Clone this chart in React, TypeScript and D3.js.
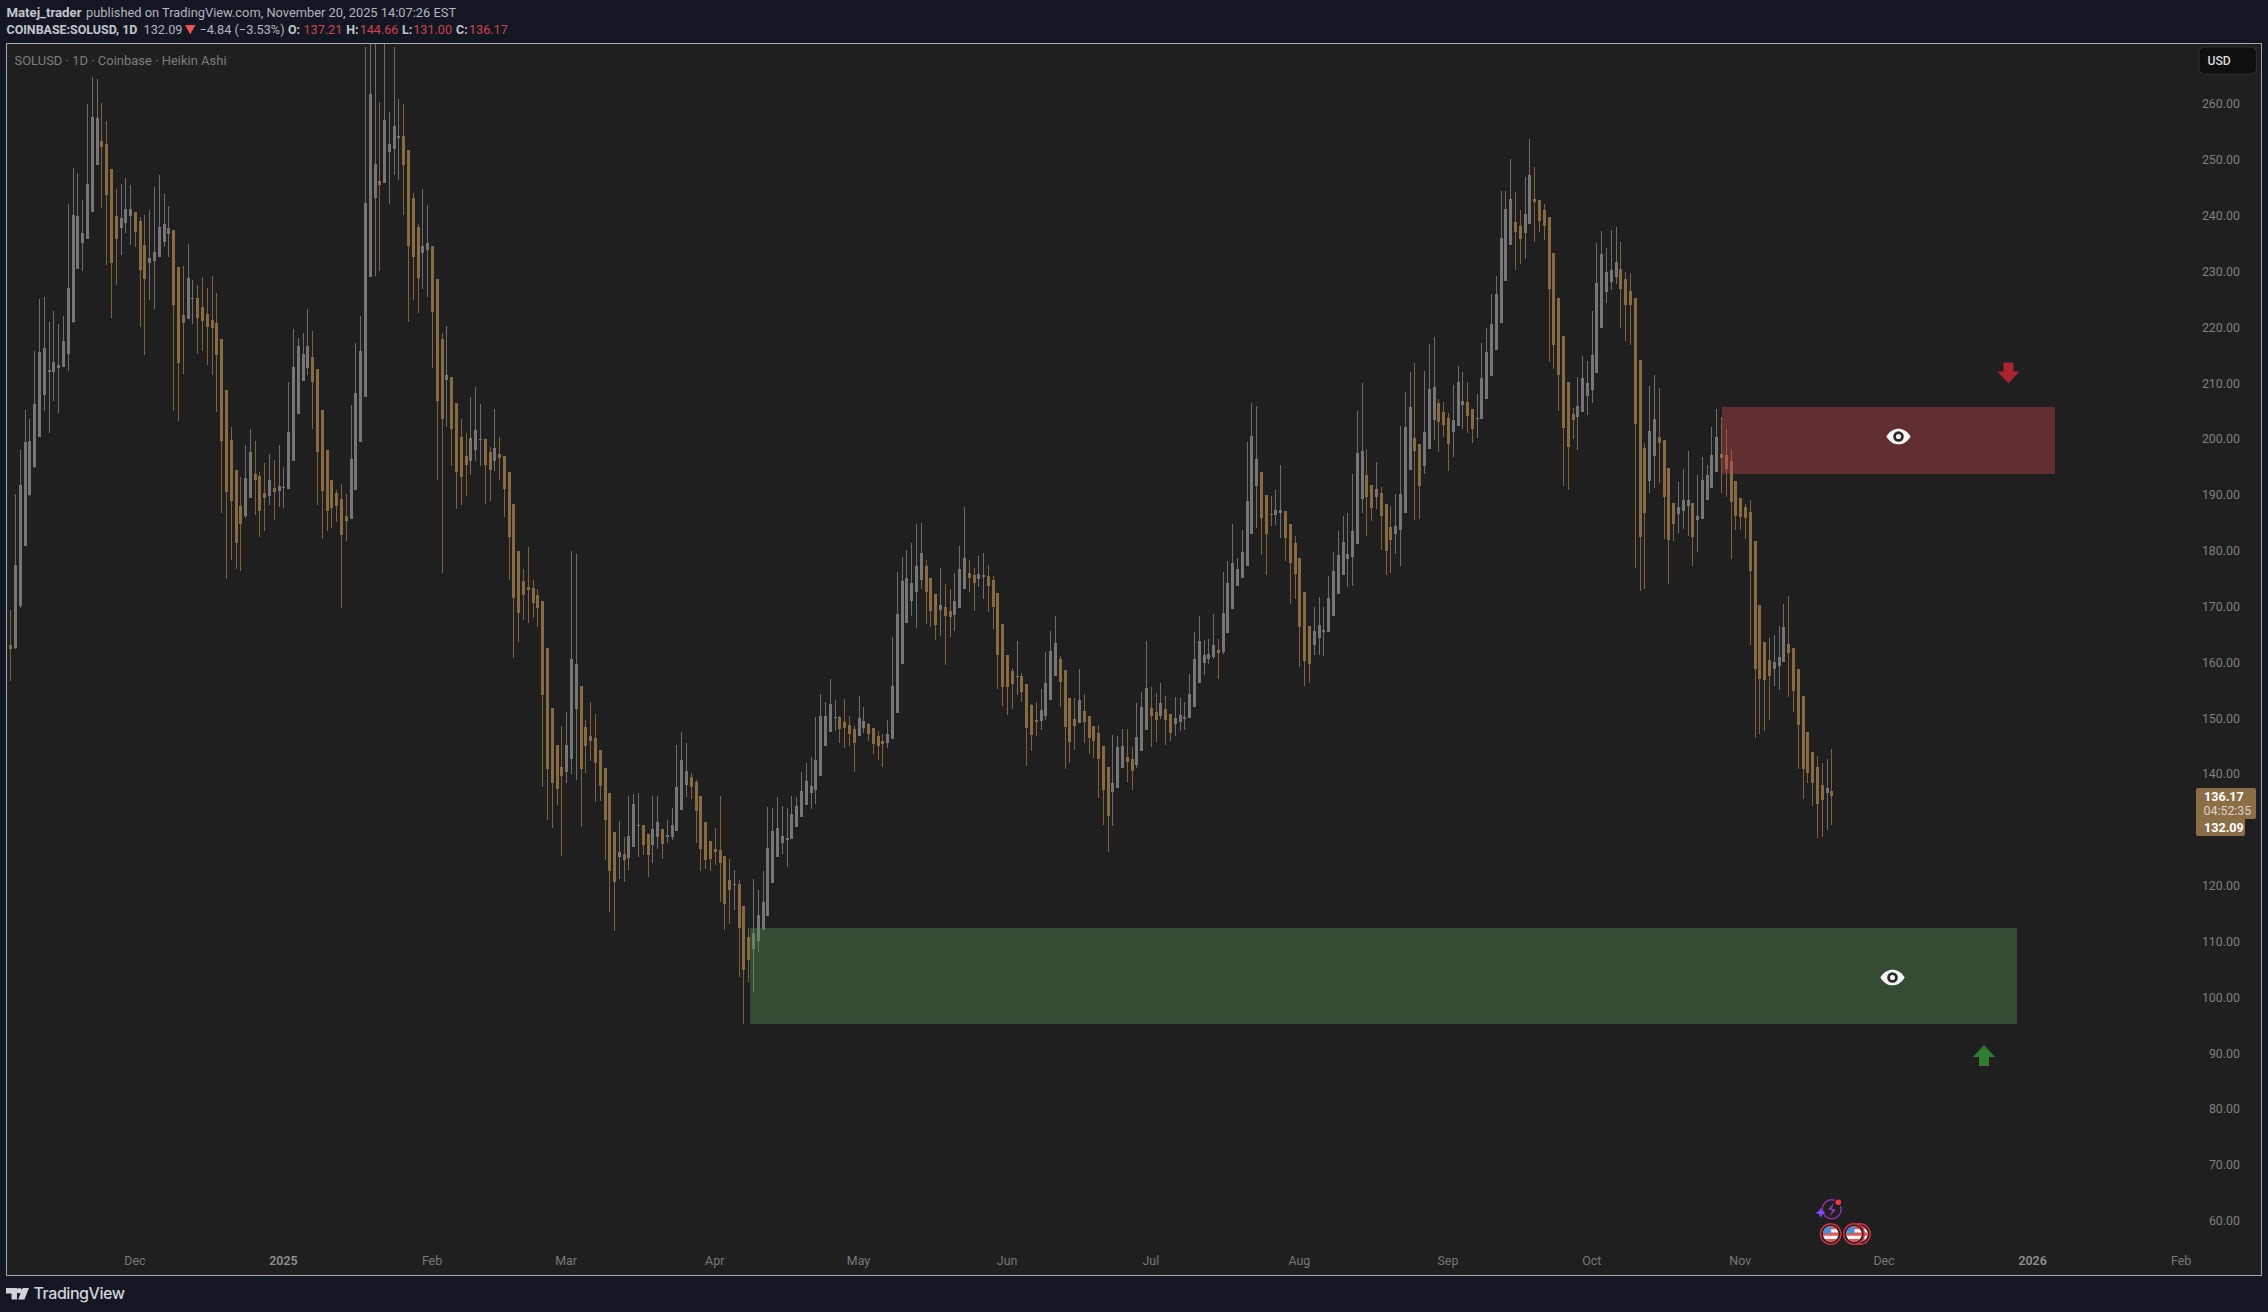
import React from 'react';
import * as d3 from 'd3';

const opens = [
163.3,162.8,170.2,181,190.2,195.1,200.6,208.1,212.2,212.2,
212.9,213.1,215.4,221.1,230.7,235.3,236,240.8,249.2,253.5,
253.1,248.5,240.1,238,238.9,240.1,240.8,239.2,234.9,231.7,
232,232.8,235.5,236.9,237.6,231,222.4,221.7,225.2,225.4,
223.8,222.6,221.5,221,218.1,209,200,194.6,188.2,186.4,
189.6,193.9,193.6,190.5,190,191.4,190.9,191.4,191.2,196.2,
204.7,210.6,212.9,214.9,212.7,205.4,198.2,192.8,190.5,189.4,
186.4,185.9,191.1,199.6,207.7,229.2,243.3,246.4,246,251.6,
252.1,254.1,254.4,251.9,243.3,238.1,233.5,234,234.7,228.8,
218.1,210.8,211.3,206.6,200.5,197.1,196.2,198.2,200,200.2,
197.9,196.2,197.5,197.1,194.3,188.6,180.1,174.8,173.7,173.5,
172.2,171.2,162.8,152,145.4,141.4,140.5,142.9,151.8,156,
148.6,147,146.6,144.5,141.3,136.8,129.8,125.3,125.9,125.1,
127.1,130.9,131.1,129.4,127.5,128.9,130.3,129,128.9,130,
133.7,138.2,139.6,138.8,136.2,131.6,128.2,126.8,126.6,125.5,
121.2,120.3,120.5,116.5,111,108.8,110.3,112.4,114.8,120.7,
125.3,127.8,128.3,128.5,130.7,132.5,134.6,136.8,137.3,139.8,
145.2,147.7,150.2,150.4,149.5,149,148.2,147,148.4,149.1,
148.4,147,146.1,145.7,146.5,151.1,159.9,167.2,171.2,172.8,
174.9,177.4,175.3,172.4,169.5,170.1,169.4,168.7,169.9,173.3,
176.2,175.8,175.1,175.5,175.6,174.9,172.6,167,161.5,158.6,
157.5,157.7,156.3,152.5,149.8,149.7,150.6,153.4,157.7,160.8,
158.8,153.8,150,149.3,151.5,150.6,148.8,147.5,145.2,141.4,
137,137.7,141.3,143.2,142.9,141.8,144.3,148.1,152,151.3,
150.6,151.8,150.9,149.1,149.5,150,150.2,152.2,156.5,160.1,
160.8,161.1,162.4,162,165.4,169.7,173.9,175.3,177.4,183.2,
191.8,194.3,190.2,186.7,186.6,187,187.3,185,181.6,178.9,
172.8,166.7,163.3,164.5,165.6,165.6,168.5,172.4,175.8,178.7,
179.1,181.4,189.4,193.7,191.9,189.8,190.5,188.5,184.4,183.2,
183.9,186.9,194.6,200.4,199.3,195.3,198.4,203.6,206.6,205,
203.9,201.4,202.5,206.3,206.8,205.5,203.8,203.8,207.3,211.5,
216.1,220.9,228.5,234.9,239,238.3,237.1,238.7,243.2,243,
241.2,239.9,233.5,225.4,218.6,210.4,204.7,204.1,205,207.9,
209,212,220,226.5,228.3,229.2,230.6,228.8,226.7,225.4,
214.3,198.6,192.6,197.1,200.5,200,195,188.7,186.7,187.3,
188.2,188.7,185.7,185.8,189.2,191.4,194.3,197.5,197.3,196.2,
192.6,189.6,188,187.1,181.9,170.5,163.8,160.6,159,159.5,
160.2,163.5,162.8,159,154.2,147.7,144.1,141.4,138.2,136.8,137.21];

const closes = [
162.6,177.6,191.9,199.6,199.8,206.5,215.8,216.5,212.5,214,
213.4,217.7,227.2,240.3,240.1,237.1,245.8,257.8,257.7,252.5,
243.9,231.7,236,239.7,241.3,241.3,237.2,230.4,228.8,232.6,
233.7,238.1,238.7,238,224.2,213.8,221,229,225.4,221.9,
221.3,220.2,220.1,215.2,199.8,190.7,189.1,181.6,185,193.2,
197.9,192.8,187.3,189.6,192.8,190.7,191.8,191.6,201.4,213.1,
216.8,215.4,216.8,210.4,197.9,190.9,187.3,187.8,188.2,183,
185.5,196.6,208.4,216,242.4,262,249.4,245.7,257.3,253,
256.2,254.4,249.2,234.7,232.8,229,234.7,235.3,222.9,207,
203.8,211.6,202,194.3,193.4,195.5,200.4,201.8,200.2,195.5,
194.6,198.6,196.8,191.2,182.7,171.7,169,172.2,173.2,170.8,
169.9,154.3,141.1,138.6,137.5,139.8,145.4,160.8,159.9,141.1,
145.2,146.1,142.2,138,132,122.8,120.8,126.2,124.8,129.1,
134.8,131.1,127.5,125.7,130.3,131.6,127.7,129.2,131.1,137.9,
142.7,140.7,137.9,133.6,126.8,124.8,125,126.2,124.2,116.9,
119.4,120.5,112.6,105.1,106.9,111.7,114.9,117.3,127,130,
130.5,129.1,128.7,133,134.5,137.1,138.9,138,142.7,150.6,
150.6,152.7,150.4,148.2,148.4,147.4,145.7,150.2,149.7,147.4,
145.6,145.2,145.6,147.4,156,168.8,174.7,175.3,174.4,177.4,
179.8,172.8,169.4,166.9,170.5,168.5,168.3,171.2,176.9,178.9,
175.3,174.4,176,175.8,173.8,170.1,161.5,155.8,155.8,156.3,
157.7,154.9,148.4,147.2,149.5,151.6,156.5,162.2,163.6,156.7,
148.6,145.9,148.8,153.4,149.5,146.6,146.1,142.9,137.3,132.7,
138.6,145,145.2,142.3,140.7,146.8,152.2,155.6,150.6,149.8,
152.9,149.8,147.5,150.2,150.8,150.4,154.5,160.8,164,161.5,
161.7,163.3,161.8,169,174.4,178,176.9,180,189,200.7,
196.6,186,183.2,186.6,187.5,187.5,182.5,178,176,166.5,
160.4,159.9,165.8,166.9,166,171.7,176.5,179.4,181.7,179.6,
183.7,197.7,198,189.8,187.8,191.2,186.4,180.1,182.1,184.6,
190.3,202.3,205.9,198,191.8,201.4,209.1,209.5,203.2,202.7,
199.3,203.6,210.4,207,204.3,202,203.9,211.1,215.8,220.8,
226.1,236.2,241.4,243.2,237.2,236,240.5,247.5,242.6,239.2,
238.3,227,217,211.6,202.2,198.7,203.6,206.1,211.1,210.2,
215.2,228.1,233.3,230.1,230.4,231.9,227,224.2,224.2,202.9,
182.6,186.9,201.6,203.8,199.5,189.8,182.1,184.9,188,189.2,
189.2,182.6,186.4,192.8,193.7,197.3,200.5,196.8,194.8,188.9,
186.4,186.2,186,176.5,159,157.2,157,157.7,160.2,161.1,
166.5,161.9,155.1,149,141.1,140.4,138.6,134.8,135.5,137.7,136.17];

const highs = [
169.6,190.3,198.2,205.3,203.7,216,225.2,225.7,221.1,223.1,
220.8,222.2,242.3,248.8,247.9,243,260.2,265,264.6,260.4,
257.1,248.5,245,245.8,247,245.7,240.8,240,240.3,241.2,
245.3,247.5,244,241.9,237.6,231,231.2,235.1,228.6,227.8,
229.2,227.2,229.4,226.3,218.1,209,202.3,194.6,193.4,199.1,
202,199.8,194.3,195.9,197.5,196.4,199.1,195.2,210.4,219.9,
218.3,219.2,223.5,219.5,212.7,205.4,198.2,192.8,191,192.1,
190.3,206.3,217.4,222.2,270.4,272,272,260.5,272,258.7,
270.4,261,260.2,251.9,244.2,238.7,245,242.1,234.7,228.8,
219.2,220.4,211.3,206.6,203.8,201.3,207.7,209.5,206.4,200.2,
198.8,205.6,200.5,197.1,194.3,188.6,180.1,176.9,180.8,174.9,
173.3,171.2,162.8,152,145.4,148.8,151.3,180.1,179.6,156,
149.9,153.1,150.9,144.5,141.3,136.8,129.8,131.8,128.9,136.2,
136.6,136.8,131.1,129.4,136.2,136.2,130.3,132,134.1,145.4,
147.7,145.7,140.4,139.1,136.2,131.6,128.2,130.5,136.2,125.5,
125,123,121.2,116.5,112.6,121.4,119.4,122.8,134.3,134.1,
136.1,134.5,134.1,136.2,136.1,140.5,142.2,143.2,150.4,154.5,
153.1,157.2,153.4,150.6,153.6,150.6,148.8,154.2,152.2,149.3,
148.4,147.9,147.4,149.9,164.7,176.4,179,180.3,181.6,184.9,
185.1,178.5,175.3,172.4,177.1,174.2,173.3,176.2,181,188,
178.5,177.1,179.2,179.8,177.6,175.6,172.6,167,161.5,159.2,
164,158.3,156.3,152.7,153.1,155.4,162,165.8,168.5,161.4,
158.8,153.8,153.8,159,154.5,150.6,148.8,149,145.2,141.4,
147.2,147,148.2,148.2,145,152.9,154.9,164,155.8,154.7,
156.5,154.2,150.9,154,153.8,153.1,158.1,165.6,168.5,164.2,
164.4,168.8,164.4,176.4,178.3,185,178.9,183.9,199.6,206.6,
206.1,194.3,190.2,190,191,195.5,187.3,185,182.8,178.9,
172.8,166.7,170.1,171.9,170.1,175.6,180,183.7,186.4,186.9,
193.9,205.2,210.2,198.4,191.9,196,191.6,188.5,188.2,190.3,
202.5,208.6,212.2,213.8,199.3,212.4,217.2,218.5,207.3,206.8,
204.8,209.8,213.3,212.2,210.4,205.5,208.2,217.4,220,226.1,
229.4,244.6,244.6,250.3,244.4,241.2,247.1,253.9,248.9,243,
242.3,239.9,233.5,225.4,218.6,210.4,205.7,211.3,215,214.1,
223.1,235.3,237.4,234.4,237.6,238.1,235.5,230.1,229.9,225.4,
214.3,199.5,209.7,211.6,209.3,200,195,188.7,192.5,194.8,
198,188.7,193.7,196.9,195.5,202.3,205.5,204.1,202,198.4,
192.6,189.6,188.5,189.2,181.9,170.5,163.8,164.5,165.1,166.7,
170.6,172.1,162.8,159,154.2,147.7,144.1,143.4,142.2,142.9,144.66];

const lows = [
156.8,162.5,170,181,190,195,200.6,205.2,201.3,207,
204.8,213,212.4,221,230.6,230.3,236,240.8,249.2,241.5,
231.3,221.9,227.8,233.1,237,234.9,234.6,220.2,215.2,225,
223.5,232.8,234.6,232.7,205.2,203.4,211.8,221.7,220.8,215.4,
216,213.4,211.6,205,186.9,175.1,178.5,176.9,176.5,186,
189.6,186.6,182.6,183.7,188.4,185.7,188,187.8,191.2,196.2,
204.7,210.6,211.6,202,188.4,182.3,183.7,184.2,185.3,170,
181.9,185.9,191.1,199.6,207.7,229.4,229.4,230.3,246,242.3,
247.5,246.6,240.3,221.1,225,222.8,227,225.7,212.9,192.8,
176.2,202.3,195.4,187.7,188.4,190,193.7,196.2,195.4,188.5,
189.1,194.4,192.8,186.2,174.9,161,163.8,167.8,167.2,168.1,
166.5,137.9,132,130.5,134.6,125.5,138.6,140.2,139.1,130.7,
140.4,142.5,135.2,135.4,124.8,115.5,112.1,121.4,120.8,123,
127.1,125.3,125.7,121.7,124.2,126.8,125,127.8,128.4,130,
133.7,136.1,135.7,127.8,122.8,123.2,122.8,123.9,117.3,112.2,
113.3,115.8,103.8,95.4,102.9,101.1,108.3,112.1,114.8,120.7,
125.3,125.9,123.5,128.5,130.7,132.5,134.6,133.9,134.8,139.8,
145.2,147.7,147.9,145.7,144.8,145.2,140.5,147,147.5,146.1,
143.8,142.7,141.4,144.8,146.5,151.1,159.9,167.2,168.5,166.3,
173.3,167,166.5,164.2,164.9,159.7,164.7,165.8,169.9,173.3,
172.8,169.4,173.7,171.5,169.2,166.1,155.4,152.4,150.8,151.8,
154.3,153.1,141.6,144.3,147,148.1,149.9,153.4,157.7,152.2,
141.1,142.2,144.5,149.3,145.7,143.8,143,135.9,131.1,126.2,
130.9,137.7,141.3,138.7,137.3,141.3,144.3,148.1,145,145.9,
150,145.4,146.1,147,147.9,148.1,150.2,152.2,156.5,157.9,
159.9,160.8,157.2,161.7,165.4,169.7,173.9,175.3,177.4,183.2,
184.2,179.4,175.8,184.6,184.8,182.5,178.3,170.6,171.5,159.3,
156,156.5,161.5,161.5,161.3,165.6,168.5,172.4,175.8,173.7,
173.9,181.4,186.9,182.8,185.5,187.6,180.3,175.8,176.2,179.6,
177.4,186.9,194.6,185.7,185.8,193.9,198.4,200,197.8,200.5,
194.4,197,202.5,201.9,201.2,199.5,200.3,203.8,207.3,211.5,
216.1,220.9,228.5,234.9,230.4,231.5,232.4,238.7,235.5,237.2,
235.8,214,212.7,205.2,191.8,191,200.2,198.2,205,204.5,
206.6,212,220,224.5,226.9,227.9,220,217.7,217,177.1,
172.9,173.3,190.5,191.4,192.3,182.3,174.2,181.9,183.3,184.1,
182.8,177.4,179.9,185.8,189.2,191.4,194.3,190.5,189.8,178.7,
183.9,183.9,182.3,163.3,146.6,147.3,147.9,149.9,155.9,155.2,
160.2,154,151.3,141.1,135.7,138.6,134.5,128.7,128.9,130.2,131];

const priceTicks = [260,250,240,230,220,210,200,190,180,170,160,150,140,130,120,110,100,90,80,70,60];
const timeTicks: [string, string][] = [
  ['2024-12-01','Dec'],['2025-01-01','2025'],['2025-02-01','Feb'],['2025-03-01','Mar'],['2025-04-01','Apr'],
  ['2025-05-01','May'],['2025-06-01','Jun'],['2025-07-01','Jul'],['2025-08-01','Aug'],['2025-09-01','Sep'],
  ['2025-10-01','Oct'],['2025-11-01','Nov'],['2025-12-01','Dec'],['2026-01-01','2026'],['2026-02-01','Feb'],
];
const firstDay = '2024-11-05';
const lastDay = '2025-11-20';
const resistanceZone = { from: '2025-10-28T05:00Z', to: '2026-01-05T16:00Z', top: 205.9, bottom: 193.9 };
const supportZone = { from: '2025-04-08T09:00Z', to: '2025-12-28T19:00Z', top: 112.6, bottom: 95.4 };

const W = 2268, H = 1312;
const PL = 7, PR = 2261, PT = 44, PB = 1275;
const UP = '#767676', DOWN = '#886a43';
const UP_WICK = '#6f6f6f', DOWN_WICK = '#7f633f';
const FONT = 'Roboto, sans-serif';

const x = d3.scaleUtc().domain([new Date(firstDay), new Date(lastDay)]).range([10.3, 1831.3]);
const y = d3.scaleLinear().domain([260, 60]).range([105, 1221.8]);
const dayMs = 86400000;
const dateOf = (i: number) => new Date(new Date(firstDay).getTime() + i * dayMs);

function Eye({ cx, cy }: { cx: number; cy: number }) {
  return (
    <g transform={`translate(${cx},${cy}) scale(1.06)`}>
      <path d="M-11.5 0C-8 -5.6 -4 -7.4 0 -7.4S8 -5.6 11.5 0C8 5.6 4 7.4 0 7.4S-8 5.6 -11.5 0Z" fill="#f5f5f5" />
      <circle r="5" fill="#2a2a2a" />
      <circle r="2.4" fill="#f5f5f5" />
    </g>
  );
}

function Flag({ cx, cy }: { cx: number; cy: number }) {
  const id = `f${Math.round(cx)}`;
  return (
    <g transform={`translate(${cx},${cy})`}>
      <circle r="10.2" fill="#1f1f1f" stroke="#d32f3f" strokeWidth="1.5" />
      <clipPath id={id}><circle r="7.8" /></clipPath>
      <g clipPath={`url(#${id})`}>
        <rect x="-8" y="-8" width="16" height="16" fill="#f4f4f4" />
        <rect x="-8" y="-8" width="16" height="3.2" fill="#e25550" />
        <rect x="-8" y="-1.5" width="16" height="3.2" fill="#e25550" />
        <rect x="-8" y="5" width="16" height="3" fill="#e25550" />
        <rect x="-8" y="-8" width="8.5" height="7.5" fill="#4a90d9" />
      </g>
    </g>
  );
}

export default function App() {
  const n = opens.length;
  const clip = 'plot-clip';
  const ohlc = [
    ['O:', '137.21', 288, 303.5],
    ['H:', '144.66', 346.3, 359.7],
    ['L:', '131.00', 402, 413.3],
    ['C:', '136.17', 456, 469],
  ] as [string, string, number, number][];
  return (
    <svg width={W} height={H} style={{ position: 'absolute', left: 0, top: 0, display: 'block' }} fontFamily={FONT}>
      <defs>
        <clipPath id={clip}><rect x={PL} y={PT} width={PR - PL} height={PB - PT} /></clipPath>
      </defs>
      <rect width={W} height={H} fill="#131722" />
      <rect x={PL} y={PT} width={PR - PL} height={PB - PT} fill="#1f1f1f" />

      <g clipPath={`url(#${clip})`} shapeRendering="crispEdges">
        {d3.range(n).map(i => {
          const cx = Math.round(x(dateOf(i)));
          const up = closes[i] >= opens[i];
          const top = y(Math.max(opens[i], closes[i]));
          const bot = y(Math.min(opens[i], closes[i]));
          return (
            <g key={i}>
              <rect x={cx} y={y(highs[i])} width={1} height={y(lows[i]) - y(highs[i])} fill={up ? UP_WICK : DOWN_WICK} />
              <rect x={cx - 1} y={top} width={3} height={Math.max(1, bot - top)} fill={up ? UP : DOWN} />
            </g>
          );
        })}
        {[
          { z: resistanceZone, fill: 'rgba(198,71,81,0.4)' },
          { z: supportZone, fill: 'rgba(84,146,86,0.4)' },
        ].map(({ z, fill }, k) => (
          <rect key={k} x={x(new Date(z.from))} y={y(z.top)} width={x(new Date(z.to)) - x(new Date(z.from))} height={y(z.bottom) - y(z.top)} fill={fill} />
        ))}
      </g>

      <Eye cx={1898.5} cy={436.5} />
      <Eye cx={1892.5} cy={977.5} />
      <path d="M2003.5 362.5h10v9h6l-11 12l-11 -12h6z" fill="#a8252f" />
      <path d="M1979 1066h10v-9h6l-11 -12l-11 12h6z" fill="#2e7d32" />

      {/* events */}
      <circle cx={1831.7} cy={1209.3} r={9.5} fill="none" stroke="#8e2fa3" strokeWidth={1.6} />
      <path d="M1834 1202l-6 8h4l-2 7l6 -8h-4z" fill="#8e2fa3" />
      <circle cx={1838.3} cy={1202.3} r={4} fill="#1f1f1f" />
      <circle cx={1838.3} cy={1202.3} r={2.8} fill="#f23645" />
      <path d="M1820.7 1207.7l1.6 3.4l3.4 1.6l-3.4 1.6l-1.6 3.4l-1.6 -3.4l-3.4 -1.6l3.4 -1.6z" fill="#7c4dff" />
      <Flag cx={1860} cy={1234} />
      <Flag cx={1854} cy={1234} />
      <Flag cx={1830.7} cy={1234} />

      {/* frame */}
      <rect x={PL - 0.5} y={PT - 0.5} width={PR - PL + 1} height={PB - PT + 1} fill="none" stroke="#a5a8ad" strokeWidth={1} shapeRendering="crispEdges" />

      {/* price axis */}
      {priceTicks.map(p => (
        <text key={p} x={2240} y={y(p) - 1.2} textAnchor="end" dominantBaseline="central" fontSize={12.4} fill="#7f7f7f">{d3.format('.2f')(p)}</text>
      ))}
      {/* time axis */}
      {timeTicks.map(([d, label]) => {
        const yr = /^\d+$/.test(label);
        return <text key={d} x={x(new Date(d))} y={1260.7} textAnchor="middle" dominantBaseline="central" fontSize={12.4} fontWeight={yr ? 600 : 400} fill={yr ? '#8f8f8f' : '#787878'}>{label}</text>;
      })}

      {/* USD box */}
      <rect x={2199} y={47} width={57.5} height={27} rx={5} fill="#0f0f0f" stroke="#2e2e2e" strokeWidth={1.2} />
      <text x={2207.5} y={61.3} dominantBaseline="central" fontSize={12.2} fontWeight={500} fill="#dbdbdb">USD</text>

      {/* price tags */}
      <path d="M2196 790a2 2 0 0 1 2 -2h56a2 2 0 0 1 2 2v27a2 2 0 0 1 -2 2h-58z" fill="#8c6e46" />
      <path d="M2196 819h49v15a2 2 0 0 1 -2 2h-45a2 2 0 0 1 -2 -2z" fill="#8c6e46" />
      <text x={2204} y={796.7} dominantBaseline="central" fontSize={12.6} fontWeight={700} fill="#ffffff">136.17</text>
      <text x={2203.5} y={810.7} dominantBaseline="central" fontSize={12.4} fill="#dcd3c5">04:52:35</text>
      <text x={2204} y={827.5} dominantBaseline="central" fontSize={12.6} fontWeight={700} fill="#ffffff">132.09</text>

      {/* legend */}
      <text x={14.5} y={60.6} dominantBaseline="central" fontSize={12.98} fill="#7d7d7d">SOLUSD · 1D · Coinbase · Heikin Ashi</text>

      {/* header */}
      <text x={6.5} y={12.7} dominantBaseline="central" fontSize={13.2} fontWeight={700} fill="#c3c6cd">Matej_trader</text>
      <text x={86} y={12.7} dominantBaseline="central" fontSize={12.85} fill="#b2b5be">published on TradingView.com, November 20, 2025 14:07:26 EST</text>
      <text x={6.5} y={29.5} dominantBaseline="central" fontSize={12.45} fontWeight={700} fill="#c3c6cd">COINBASE:SOLUSD, 1D</text>
      <text x={143.5} y={29.5} dominantBaseline="central" fontSize={12.7} fill="#b2b5be">132.09</text>
      <path d="M185 25h10.5l-5.25 9.5z" fill="#ef5350" />
      <text x={199.4} y={29.5} dominantBaseline="central" fontSize={12.7} fill="#b2b5be">−4.84 (−3.53%)</text>
      {ohlc.map(([k, v, kx, vx]) => (
        <g key={k}>
          <text x={kx} y={29.5} dominantBaseline="central" fontSize={12.45} fontWeight={700} fill="#c3c6cd">{k}</text>
          <text x={vx} y={29.5} dominantBaseline="central" fontSize={12.6} fill="#d0434c">{v}</text>
        </g>
      ))}

      {/* logo */}
      <path d="M6 1288h11v11.5h-5.5v-6H6zM29 1288l-4.6 11.5h-6.3l4.6 -11.5z" fill="#d1d4dc" />
      <circle cx={19.3} cy={1290.7} r={2.6} fill="#d1d4dc" />
      <text x={33.5} y={1293.2} dominantBaseline="central" fontSize={16} fontWeight={500} fontFamily="Inter, sans-serif" fill="#d1d4dc" letterSpacing={-0.45}>TradingView</text>
    </svg>
  );
}
